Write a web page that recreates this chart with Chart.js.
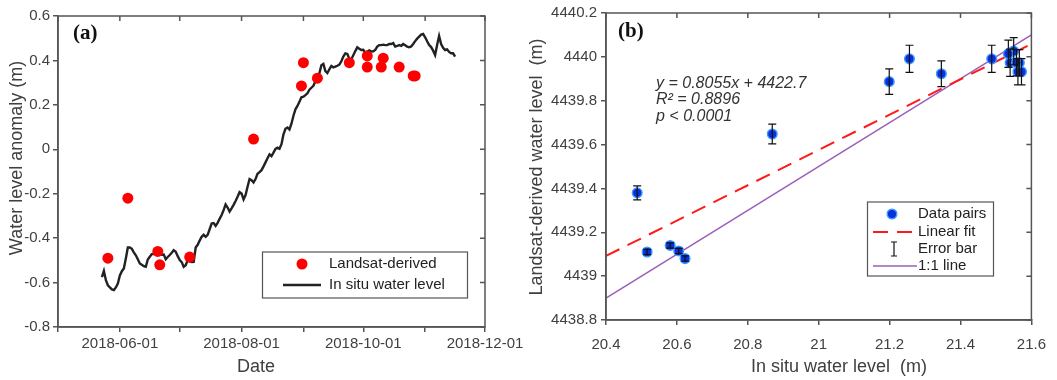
<!DOCTYPE html>
<html>
<head>
<meta charset="utf-8">
<script src="https://cdn.jsdelivr.net/npm/chart.js@4.4.1/dist/chart.umd.min.js"></script>
<style>
  html, body { margin: 0; padding: 0; background: #fff; }
  #wrap { position: relative; width: 1057px; height: 380px; overflow: hidden; }
  #chartA { position: absolute; left: 0; top: 0; }
  #chartB { position: absolute; left: 520px; top: 0; }
</style>
</head>
<body>
<div id="wrap">
  <canvas id="chartA" width="530" height="380"></canvas>
  <canvas id="chartB" width="537" height="380"></canvas>
</div>
<script>
// ---- panel (a): water level anomaly through time ----
const situStart = "2018-05-23";
const situLevel = [
  -0.575, -0.547, -0.589, -0.612, -0.622, -0.631, -0.634, -0.622, -0.604, -0.568,
  -0.549, -0.537, -0.492, -0.442, -0.442, -0.448, -0.464, -0.477, -0.495, -0.514,
  -0.520, -0.526, -0.529, -0.496, -0.484, -0.472, -0.472, -0.469, -0.469, -0.466,
  -0.475, -0.474, -0.495, -0.485, -0.476, -0.466, -0.454, -0.461, -0.481, -0.499,
  -0.508, -0.529, -0.522, -0.499, -0.505, -0.508, -0.507, -0.442, -0.430, -0.411,
  -0.394, -0.385, -0.394, -0.385, -0.360, -0.334, -0.332, -0.345, -0.331, -0.313,
  -0.296, -0.274, -0.248, -0.262, -0.280, -0.266, -0.250, -0.233, -0.214, -0.193,
  -0.199, -0.226, -0.206, -0.169, -0.134, -0.139, -0.149, -0.134, -0.110, -0.103,
  -0.094, -0.077, -0.059, -0.040, -0.023, -0.031, -0.015, 0.002, 0.007, 0.002,
  0.023, 0.067, 0.092, 0.098, 0.089, 0.115, 0.151, 0.180, 0.195, 0.214,
  0.234, 0.237, 0.244, 0.252, 0.268, 0.277, 0.286, 0.306, 0.316, 0.342,
  0.378, 0.384, 0.352, 0.343, 0.360, 0.375, 0.369, 0.372, 0.376, 0.381,
  0.396, 0.417, 0.432, 0.429, 0.408, 0.405, 0.423, 0.442, 0.459, 0.453,
  0.447, 0.448, 0.435, 0.440, 0.445, 0.440, 0.441, 0.447, 0.462, 0.469,
  0.469, 0.471, 0.469, 0.469, 0.474, 0.474, 0.478, 0.462, 0.465, 0.469,
  0.466, 0.474, 0.468, 0.462, 0.459, 0.463, 0.474, 0.487, 0.498, 0.507,
  0.516, 0.519, 0.504, 0.486, 0.469, 0.460, 0.444, 0.424, 0.469, 0.510,
  0.474, 0.457, 0.447, 0.450, 0.438, 0.432, 0.432, 0.417
];
const landsatDates = [
  "2018-05-26", "2018-06-05", "2018-06-20", "2018-06-21", "2018-07-06",
  "2018-08-07", "2018-08-31", "2018-09-01", "2018-09-08", "2018-09-24",
  "2018-10-03", "2018-10-03", "2018-10-10", "2018-10-11", "2018-10-19",
  "2018-10-26", "2018-10-27"
];
const landsatLevel = [
  -0.49, -0.22, -0.46, -0.52, -0.485,
  0.046, 0.285, 0.39, 0.32, 0.39,
  0.42, 0.37, 0.37, 0.41, 0.37,
  0.33, 0.33
];
const monthTicks = [
  "2018-05-01", "2018-06-01", "2018-07-01", "2018-08-01",
  "2018-09-01", "2018-10-01", "2018-11-01", "2018-12-01"
];
const monthLabels = ["", "2018-06-01", "", "2018-08-01", "", "2018-10-01", "", "2018-12-01"];
const anomalyTicks = [-0.8, -0.6, -0.4, -0.2, 0, 0.2, 0.4, 0.6];

// ---- panel (b): Landsat vs in situ level ----
const pairSitu = [
  20.516, 20.488, 20.581, 20.623, 20.605,
  20.869, 21.199, 21.256, 21.346, 21.488,
  21.550, 21.540, 21.566, 21.535, 21.558,
  21.562, 21.572
];
const pairLandsat = [
  4439.11, 4439.38, 4439.14, 4439.08, 4439.115,
  4439.648, 4439.887, 4439.991, 4439.923, 4439.991,
  4440.026, 4439.973, 4439.973, 4440.014, 4439.973,
  4439.932, 4439.932
];
const pairError = [
  0.012, 0.032, 0.012, 0.012, 0.012,
  0.045, 0.058, 0.062, 0.059, 0.062,
  0.062, 0.062, 0.060, 0.062, 0.060,
  0.060, 0.060
];
const fitCoef = [0.8055, 4422.66];   // slope, intercept
const fitR2 = 0.8896;
const oneToOneOffset = 4418.5;
const situRange = [20.4, 21.6];

const FONT = "'Liberation Sans', Arial, sans-serif";
const AXIS = "#555";
const LABEL = "#404040";

const DAY = 86400000;
const origin = Date.parse(monthTicks[0] + "T00:00:00Z");
function dayOf(s) {
  return (Date.parse(s + "T00:00:00Z") - origin) / DAY;
}
function fmt(v) {
  return String(Number(v.toFixed(1)));
}

function text(ctx, str, x, y, font, color, align, angle) {
  ctx.save();
  ctx.translate(x, y);
  if (angle) ctx.rotate(angle);
  ctx.font = font;
  ctx.fillStyle = color;
  ctx.textAlign = align || "center";
  ctx.textBaseline = "middle";
  ctx.fillText(str, 0, 0);
  ctx.restore();
}

// box round the plot with inward ticks on top and right
function drawFrame(chart) {
  const { ctx, chartArea: a, scales } = chart;
  ctx.save();
  ctx.strokeStyle = AXIS;
  ctx.lineWidth = 1.5;
  ctx.strokeRect(a.left, a.top, a.right - a.left, a.bottom - a.top);
  ctx.beginPath();
  scales.x.ticks.forEach(t => {
    const px = scales.x.getPixelForValue(t.value);
    ctx.moveTo(px, a.top);
    ctx.lineTo(px, a.top + 5);
  });
  scales.y.ticks.forEach(t => {
    const py = scales.y.getPixelForValue(t.value);
    ctx.moveTo(a.right, py);
    ctx.lineTo(a.right - 5, py);
  });
  ctx.stroke();
  ctx.restore();
}

function axisOpts(min, max, extra) {
  return Object.assign({
    type: "linear",
    min: min,
    max: max,
    grid: { drawOnChartArea: false, tickLength: 5, color: AXIS, lineWidth: 1.5 },
    border: { color: AXIS, width: 1.5 },
    ticks: { color: LABEL, font: { family: FONT, size: 15 }, autoSkip: false, maxRotation: 0 }
  }, extra);
}

// ---------- chart (a) ----------
const situPts = situLevel.map((v, i) => ({ x: dayOf(situStart) + i, y: v }));
const landsatPts = landsatLevel.map((v, i) => ({ x: dayOf(landsatDates[i]), y: v }));

const panelA = {
  id: "panelA",
  afterDraw(chart) {
    const ctx = chart.ctx;
    drawFrame(chart);
    text(ctx, "(a)", 73, 34, "bold 21px 'Liberation Serif', 'Times New Roman', serif", "#111", "left");
    text(ctx, "Date", 256, 367, "18px " + FONT, LABEL);
    text(ctx, "Water level anomaly (m)", 17, 158, "18px " + FONT, LABEL, "center", -Math.PI / 2);

    // legend
    ctx.save();
    ctx.strokeStyle = AXIS;
    ctx.lineWidth = 1.2;
    ctx.strokeRect(262.5, 252, 205, 46);
    ctx.fillStyle = "#ff0000";
    ctx.beginPath();
    ctx.arc(302, 264, 5.5, 0, Math.PI * 2);
    ctx.fill();
    ctx.strokeStyle = "#222";
    ctx.lineWidth = 2.4;
    ctx.beginPath();
    ctx.moveTo(283, 285);
    ctx.lineTo(321, 285);
    ctx.stroke();
    ctx.restore();
    text(ctx, "Landsat-derived", 329, 264, "15px " + FONT, "#222", "left");
    text(ctx, "In situ water level", 329, 285, "15px " + FONT, "#222", "left");
  }
};

new Chart(document.getElementById("chartA"), {
  type: "scatter",
  data: {
    datasets: [
      {
        label: "Landsat-derived",
        data: landsatPts,
        pointRadius: 5.5,
        pointBackgroundColor: "#ff0000",
        pointBorderWidth: 0,
        order: 0
      },
      {
        label: "In situ water level",
        data: situPts,
        showLine: true,
        pointRadius: 0,
        borderColor: "#222",
        borderWidth: 2.4,
        tension: 0,
        order: 1
      }
    ]
  },
  options: {
    responsive: false,
    animation: false,
    layout: { padding: { left: 0, right: 45, top: 16, bottom: 0 } },
    plugins: { legend: { display: false }, tooltip: { enabled: false } },
    scales: {
      x: axisOpts(0, dayOf(monthTicks[monthTicks.length - 1]), {
        afterBuildTicks(s) { s.ticks = monthTicks.map(d => ({ value: dayOf(d) })); },
        afterFit(s) { s.height = 53; },
        ticks: {
          color: LABEL, font: { family: FONT, size: 15 }, autoSkip: false, maxRotation: 0, padding: 3,
          callback: (v, i) => monthLabels[i]
        }
      }),
      y: axisOpts(anomalyTicks[0], anomalyTicks[anomalyTicks.length - 1], {
        afterBuildTicks(s) { s.ticks = anomalyTicks.map(v => ({ value: v })); },
        afterFit(s) { s.width = 58; },
        ticks: {
          color: LABEL, font: { family: FONT, size: 15 }, autoSkip: false, padding: 3,
          callback: v => fmt(v)
        }
      })
    }
  },
  plugins: [panelA]
});

// ---------- chart (b) ----------
const pairPts = pairSitu.map((x, i) => ({ x: x, y: pairLandsat[i] }));
const fitPts = situRange.map(x => ({ x: x, y: fitCoef[0] * x + fitCoef[1] }));
const onePts = situRange.map(x => ({ x: x, y: x + oneToOneOffset }));

const errorBars = {
  id: "errorBars",
  afterDatasetsDraw(chart) {
    const { ctx, scales } = chart;
    ctx.save();
    ctx.strokeStyle = "#111";
    ctx.lineWidth = 1.2;
    ctx.beginPath();
    pairPts.forEach((p, i) => {
      const px = scales.x.getPixelForValue(p.x);
      const top = scales.y.getPixelForValue(p.y + pairError[i]);
      const bot = scales.y.getPixelForValue(p.y - pairError[i]);
      ctx.moveTo(px, top); ctx.lineTo(px, bot);
      ctx.moveTo(px - 4, top); ctx.lineTo(px + 4, top);
      ctx.moveTo(px - 4, bot); ctx.lineTo(px + 4, bot);
    });
    ctx.stroke();
    ctx.restore();
  }
};

const panelB = {
  id: "panelB",
  afterDraw(chart) {
    const ctx = chart.ctx;
    drawFrame(chart);
    text(ctx, "(b)", 98, 32, "bold 21px 'Liberation Serif', 'Times New Roman', serif", "#111", "left");
    text(ctx, "In situ water level  (m)", 319, 367, "18px " + FONT, LABEL);
    text(ctx, "Landsat-derived water level  (m)", 17, 167, "18px " + FONT, LABEL, "center", -Math.PI / 2);

    const eq = "italic 16px " + FONT;
    text(ctx, "y = " + fitCoef[0].toFixed(4) + "x + " + fitCoef[1].toFixed(1), 136, 84, eq, "#333", "left");
    text(ctx, "R\u00b2 = " + fitR2.toFixed(4), 136, 100, eq, "#333", "left");
    text(ctx, "p < 0.0001", 136, 117, eq, "#333", "left");

    // legend
    ctx.save();
    ctx.strokeStyle = AXIS;
    ctx.lineWidth = 1.2;
    ctx.strokeRect(347.5, 202, 126, 74);
    ctx.fillStyle = "#0b2fd9";
    ctx.strokeStyle = "#3d9bff";
    ctx.lineWidth = 1.5;
    ctx.beginPath();
    ctx.arc(372, 214, 4.8, 0, Math.PI * 2);
    ctx.fill();
    ctx.stroke();
    ctx.strokeStyle = "#ff1a1a";
    ctx.lineWidth = 2;
    ctx.setLineDash([15, 9]);
    ctx.beginPath();
    ctx.moveTo(353, 232);
    ctx.lineTo(397, 232);
    ctx.stroke();
    ctx.setLineDash([]);
    ctx.strokeStyle = "#111";
    ctx.lineWidth = 1.2;
    ctx.beginPath();
    ctx.moveTo(374, 242); ctx.lineTo(374, 256);
    ctx.moveTo(371, 242); ctx.lineTo(377, 242);
    ctx.moveTo(371, 256); ctx.lineTo(377, 256);
    ctx.stroke();
    ctx.strokeStyle = "#9b5fba";
    ctx.lineWidth = 1.5;
    ctx.beginPath();
    ctx.moveTo(353, 266);
    ctx.lineTo(397, 266);
    ctx.stroke();
    ctx.restore();
    const lf = "15px " + FONT;
    text(ctx, "Data pairs", 398, 214, lf, "#222", "left");
    text(ctx, "Linear fit", 398, 232, lf, "#222", "left");
    text(ctx, "Error bar", 398, 249, lf, "#222", "left");
    text(ctx, "1:1 line", 398, 266, lf, "#222", "left");
  }
};

new Chart(document.getElementById("chartB"), {
  type: "scatter",
  data: {
    datasets: [
      {
        label: "Data pairs",
        data: pairPts,
        pointRadius: 4.8,
        pointBackgroundColor: "#0b2fd9",
        pointBorderColor: "#3d9bff",
        pointBorderWidth: 1.5,
        order: 0
      },
      {
        label: "Linear fit",
        data: fitPts,
        showLine: true,
        pointRadius: 0,
        borderColor: "#ff1a1a",
        borderWidth: 2,
        borderDash: [15, 9],
        order: 1
      },
      {
        label: "1:1 line",
        data: onePts,
        showLine: true,
        pointRadius: 0,
        borderColor: "#9b5fba",
        borderWidth: 1.5,
        order: 2
      }
    ]
  },
  options: {
    responsive: false,
    animation: false,
    layout: { padding: { left: 0, right: 24, top: 12, bottom: 0 } },
    plugins: { legend: { display: false }, tooltip: { enabled: false } },
    scales: {
      x: axisOpts(situRange[0], situRange[1], {
        afterFit(s) { s.height = 60; },
        ticks: {
          color: LABEL, font: { family: FONT, size: 15 }, autoSkip: false, maxRotation: 0, padding: 11,
          stepSize: 0.2, callback: v => fmt(v)
        }
      }),
      y: axisOpts(4438.8, 4440.2, {
        afterFit(s) { s.width = 86; },
        ticks: {
          color: LABEL, font: { family: FONT, size: 15 }, autoSkip: false, padding: 4,
          stepSize: 0.2, callback: v => fmt(v)
        }
      })
    }
  },
  plugins: [errorBars, panelB]
});
</script>
</body>
</html>
